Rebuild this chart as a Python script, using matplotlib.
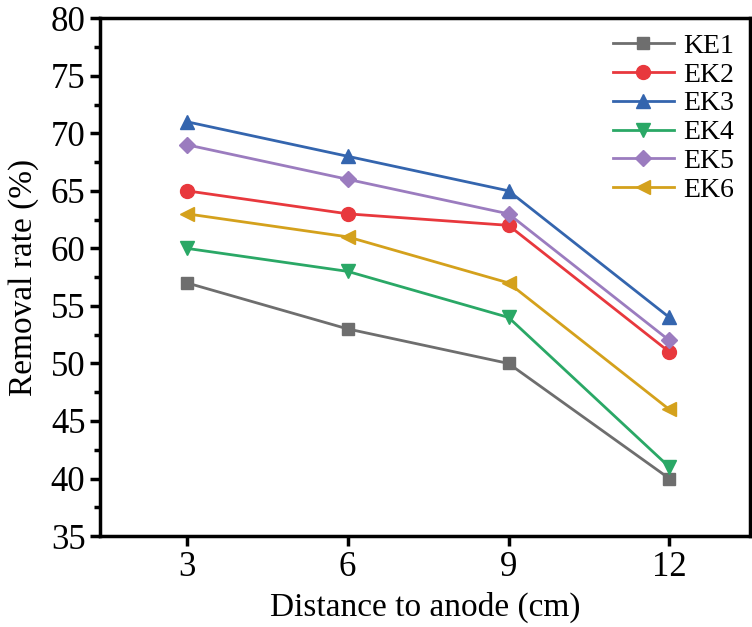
import matplotlib
matplotlib.use("Agg")
import matplotlib.pyplot as plt
from matplotlib.ticker import MultipleLocator

plt.rcParams['font.family'] = ['Liberation Serif', 'DejaVu Serif']
plt.rcParams['mathtext.fontset'] = 'stix'

distance = [3, 6, 9, 12]
names = ["KE1", "EK2", "EK3", "EK4", "EK5", "EK6"]
ke1 = [57, 53, 50, 40]
ek2 = [65, 63, 62, 51]
ek3 = [71, 68, 65, 54]
ek4 = [60, 58, 54, 41]
ek5 = [69, 66, 63, 52]
ek6 = [63, 61, 57, 46]
series = [ke1, ek2, ek3, ek4, ek5, ek6]
colors = ["#6e6e6e", "#e8383d", "#3465ae", "#2aa866", "#9b7cbf", "#d4a11c"]
markers = ["s", "o", "^", "v", "D", "<"]
msizes = [8, 10, 10, 10, 8, 10]

fig = plt.figure(figsize=(7.52, 6.27), dpi=100)
ax = fig.add_axes([0.133, 0.145, 0.864, 0.826])
for s, n, c, m, ms in zip(series, names, colors, markers, msizes):
    ax.plot(distance, s, color=c, marker=m, markersize=ms, linewidth=2, label=n)

ax.set_xlim(1.38, 13.5)
ax.set_ylim(35, 80)
ax.set_xticks(distance)
ax.yaxis.set_major_locator(MultipleLocator(5))
ax.yaxis.set_minor_locator(MultipleLocator(2.5))
ax.tick_params(axis='both', which='major', direction='out', length=7, width=2.5, labelsize=25)
ax.tick_params(axis='y', which='minor', direction='out', length=4, width=2.5)
for sp in ax.spines.values():
    sp.set_linewidth(2.5)
ax.set_xlabel("Distance to anode (cm)", fontsize=24, labelpad=6)
ax.set_ylabel("Removal rate (%)", fontsize=24, labelpad=8)
ax.legend(loc='upper right', frameon=False, fontsize=20, handlelength=2.2,
          labelspacing=0.12, borderaxespad=0.15, handletextpad=0.35)
fig.savefig("out.png", dpi=100)
